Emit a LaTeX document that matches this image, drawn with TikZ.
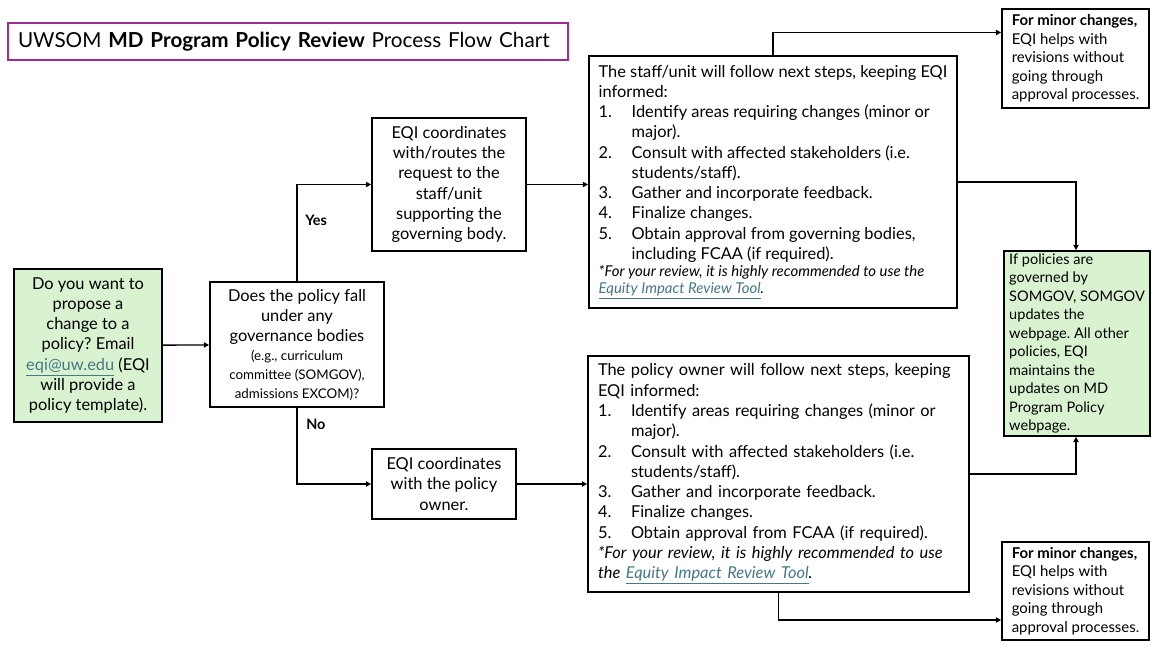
\documentclass[tikz,border=0pt]{standalone}
\usepackage{fontspec}
\setmainfont{Lato}
\usetikzlibrary{arrows.meta,positioning}

\definecolor{titlepurple}{HTML}{A02B93}
\definecolor{startgreen}{HTML}{D9F2D0}
\definecolor{linkteal}{HTML}{467886}

\newcommand{\lnk}[1]{\textcolor{linkteal}{\underline{#1}}}
\newcommand{\stepno}[1]{\makebox[24.75pt][l]{#1}}
\newcommand{\smallit}{\fontsize{11.2}{13}\selectfont\itshape}
\newcommand{\smalltxt}{\fontsize{10}{13}\selectfont}
\frenchspacing

\begin{document}
\begin{tikzpicture}[x=0.75pt,y=-0.75pt,
    box/.style={draw, rectangle, line width=1.3pt, inner sep=0pt,
        font=\fontsize{12.3}{15.2}\selectfont},
    greenbox/.style={box, fill=startgreen},
    notebox/.style={box, align=left, font=\fontsize{11.2}{13.9}\selectfont},
    link/.style={line width=1pt, -{Triangle[length=4pt,width=4pt]}},
    lbl/.style={font=\fontsize{10.8}{12}\selectfont\bfseries, inner sep=0pt}]

    \useasboundingbox[fill=white] (0,0) rectangle (1162,653);

    % Title
    \node[draw=titlepurple, line width=1.3pt, inner xsep=7.5pt, inner ysep=0pt,
        minimum height=27.75pt, text width=405pt, align=left,
        font=\fontsize{15.5}{19}\selectfont] (title) at (288,41.5)
        {\mbox{UWSOM \textbf{MD Program Policy Review} Process Flow Chart}};

    % Left column
    \node[greenbox, align=center, minimum width=111pt, minimum height=114.75pt] (start) at (88,345.5)
        {Do you want to\\ propose a\\ change to a\\ policy? Email\\ \lnk{eqi@uw.edu} (EQI\\ will provide a\\ policy template).};
    \node[box, align=center, minimum width=130.5pt, minimum height=93.75pt] (govern) at (297,344.5)
        {Does the policy fall\\ under any\\ governance bodies\\[-1.1pt]
         \smalltxt (e.g., curriculum\\[-1.1pt] \smalltxt committee (SOMGOV),\\[-1.1pt] \smalltxt admissions EXCOM)?};

    % Coordination boxes
    \node[box, align=center, minimum width=115.5pt, minimum height=99.75pt] (routes) at (449,184.5)
        {EQI coordinates\\ with/routes the\\ request to the\\ staff/unit\\ supporting the\\ governing body.};
    \node[box, align=center, minimum width=108pt, minimum height=52.5pt] (owner) at (444,484)
        {EQI coordinates\\ with the policy\\ owner.};

    % Next steps
    \node[box, align=left, minimum width=276pt, minimum height=189pt] (unitsteps) at (773,182)
        {The staff/unit will follow next steps, keeping EQI\\
         informed:\\
         \stepno{1.}Identify areas requiring changes (minor or\\
         \stepno{}major).\\
         \stepno{2.}Consult with affected stakeholders (i.e.\\
         \stepno{}students/staff).\\
         \stepno{3.}Gather and incorporate feedback.\\
         \stepno{4.}Finalize changes.\\
         \stepno{5.}Obtain approval from governing bodies,\\
         \stepno{}including FCAA (if required).\\[-2.3pt]
         \smallit *For your review, it is highly recommended to use the\\[-2.3pt]
         \smallit \lnk{Equity Impact Review Tool}.};
    \node[box, align=left, inner xsep=7.5pt, text width=270.75pt, minimum height=177pt] (ownersteps) at (778.5,474)
        {The policy owner will follow next steps, keeping\\
         EQI informed:\\
         \stepno{1.}Identify areas requiring changes (minor or\\
         \stepno{}major).\\
         \stepno{2.}Consult with affected stakeholders (i.e.\\
         \stepno{}students/staff).\\
         \stepno{3.}Gather and incorporate feedback.\\
         \stepno{4.}Finalize changes.\\
         \stepno{5.}Obtain approval from FCAA (if required).\\
         \itshape *For your review, it is highly recommended to use\\
         the \lnk{Equity Impact Review Tool}.};

    % Right column
    \node[notebox, minimum width=110.25pt, minimum height=74.25pt] (minortop) at (1075.5,58.5)
        {\textbf{For minor changes,}\\ EQI helps with\\ revisions without\\ going through\\ approval processes.};
    \node[notebox, fill=startgreen, minimum width=109.5pt, minimum height=138.75pt,
        font=\fontsize{10.9}{13.9}\selectfont] (webpage) at (1077,343.5)
        {If policies are\\ governed by\\ SOMGOV, SOMGOV\\ updates the\\ webpage. All other\\ policies, EQI\\
         maintains the\\ updates on MD\\ Program Policy\\ webpage.};
    \node[notebox, minimum width=110.25pt, minimum height=73.5pt] (minorbot) at (1075.5,591)
        {\textbf{For minor changes,}\\ EQI helps with\\ revisions without\\ going through\\ approval processes.};

    % Branch labels
    \node[lbl, anchor=west] (yes) at (305,220) {Yes};
    \node[lbl, anchor=west] (no) at (306,424) {No};

    % Connectors
    \draw[link] (start) -- (govern);
    \draw[link] (govern.north) |- (routes.west);
    \draw[link] (govern.south) |- (owner.west);
    \draw[link] (routes.east) -- (routes.east -| unitsteps.west);
    \draw[link] (owner.east) -- (owner.east -| ownersteps.west);
    \draw[link] (unitsteps.north) |- ([yshift=19.5pt]minortop.west);
    \draw[link] (ownersteps.south) |- ([yshift=-21.75pt]minorbot.west);
    \draw[link] (unitsteps.east) -| ([xshift=-0.75pt]webpage.north);
    \draw[link] (ownersteps.east) -| ([xshift=-0.75pt]webpage.south);
\end{tikzpicture}
\end{document}
